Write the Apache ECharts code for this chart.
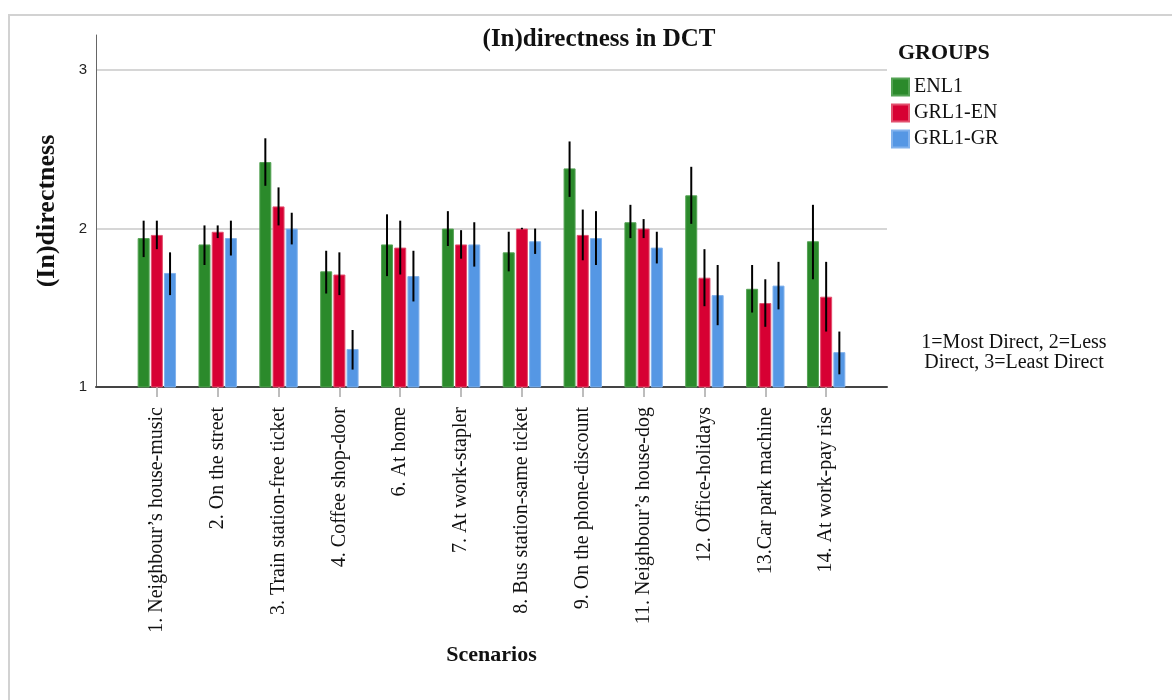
<!DOCTYPE html>
<html>
<head>
<meta charset="utf-8">
<script src="https://cdn.jsdelivr.net/npm/echarts@6/dist/echarts.min.js"></script>
<style>
  html, body { margin: 0; padding: 0; background: #ffffff; }
  #chart { width: 1172px; height: 700px; }
</style>
</head>
<body>
<div id="chart"></div>
<script>
// Scenario labels along the x axis
const scenarios = [
  '1. Neighbour\u2019s house-music',
  '2. On the street',
  '3. Train station-free ticket',
  '4. Coffee shop-door',
  '6. At home',
  '7. At work-stapler',
  '8. Bus station-same ticket',
  '9. On the phone-discount',
  '11. Neighbour\u2019s house-dog',
  '12. Office-holidays',
  '13.Car park machine',
  '14. At work-pay rise'
];

const groupNames = ['ENL1', 'GRL1-EN', 'GRL1-GR'];

// Mean (in)directness per scenario
const enl1Mean  = [1.94, 1.90, 2.42, 1.73, 1.90, 2.00, 1.85, 2.38, 2.04, 2.21, 1.62, 1.92];
const grEnMean  = [1.96, 1.98, 2.14, 1.71, 1.88, 1.90, 2.00, 1.96, 2.00, 1.69, 1.53, 1.57];
const grGrMean  = [1.72, 1.94, 2.00, 1.24, 1.70, 1.90, 1.92, 1.94, 1.88, 1.58, 1.64, 1.22];

// Error bar bounds (lower / upper)
const enl1Low   = [1.82, 1.77, 2.27, 1.59, 1.70, 1.89, 1.73, 2.20, 1.94, 2.03, 1.47, 1.68];
const enl1High  = [2.05, 2.02, 2.57, 1.86, 2.09, 2.11, 1.98, 2.55, 2.15, 2.39, 1.77, 2.15];
const grEnLow   = [1.87, 1.94, 2.02, 1.58, 1.71, 1.81, 1.995, 1.80, 1.94, 1.51, 1.38, 1.35];
const grEnHigh  = [2.05, 2.02, 2.26, 1.85, 2.05, 1.99, 2.005, 2.12, 2.06, 1.87, 1.68, 1.79];
const grGrLow   = [1.58, 1.83, 1.90, 1.11, 1.54, 1.76, 1.84, 1.77, 1.78, 1.39, 1.49, 1.08];
const grGrHigh  = [1.85, 2.05, 2.10, 1.36, 1.86, 2.04, 2.00, 2.11, 1.98, 1.77, 1.79, 1.35];

// Y axis ticks
const yTicks = [1, 2, 3];

const colors = ['#2b8a2b', '#d70033', '#5597e4'];
const edgeColors = ['#55a355', '#e2506e', '#82b2ec'];

const SERIF = '"Liberation Serif", "Times New Roman", serif';
const SANS = '"Liberation Sans", Arial, sans-serif';

const BAR_W = 12;
const BAR_GAP = 0.1;

// Empty slots on both ends leave a one-step margin inside the plot
const xCats = [''].concat(scenarios, ['']);
const pad = arr => [null].concat(arr, [null]);

const means = [enl1Mean, grEnMean, grGrMean];
const lows = [enl1Low, grEnLow, grGrLow];
const highs = [enl1High, grEnHigh, grGrHigh];

const barSeries = groupNames.map((name, g) => ({
  name: name,
  type: 'bar',
  data: pad(means[g]),
  barWidth: BAR_W,
  barGap: (BAR_GAP * 100) + '%',
  itemStyle: { color: colors[g], borderColor: edgeColors[g], borderWidth: 1 },
  z: 2
}));

const errorSeries = groupNames.map((name, g) => ({
  name: name + ' range',
  type: 'custom',
  data: scenarios.map((_, i) => [i + 1, lows[g][i], highs[g][i]]),
  encode: { x: 0, y: [1, 2] },
  z: 5,
  renderItem: function (params, api) {
    const offset = (g - 1) * BAR_W * (1 + BAR_GAP);
    const lo = api.coord([api.value(0), api.value(1)]);
    const hi = api.coord([api.value(0), api.value(2)]);
    const x = lo[0] + offset;
    return {
      type: 'line',
      shape: { x1: x, y1: lo[1], x2: x, y2: hi[1] },
      style: { stroke: '#000000', lineWidth: 2 }
    };
  }
}));

const chart = echarts.init(document.getElementById('chart'));
chart.setOption({
  animation: false,
  backgroundColor: '#ffffff',
  title: {
    text: '(In)directness in DCT',
    left: 594,
    top: 22,
    textAlign: 'center',
    textStyle: { fontFamily: SERIF, fontSize: 25, fontWeight: 'bold', color: '#111' }
  },
  legend: {
    data: groupNames,
    orient: 'vertical',
    left: 891,
    top: 77,
    padding: 0,
    itemWidth: 17,
    itemHeight: 17,
    itemGap: 6,
    icon: 'rect',
    textStyle: { fontFamily: SERIF, fontSize: 20, lineHeight: 17, color: '#111' }
  },
  grid: { left: 96, right: 285, top: 35, bottom: 313, containLabel: false },
  xAxis: {
    type: 'category',
    data: xCats,
    boundaryGap: false,
    name: 'Scenarios',
    nameLocation: 'middle',
    nameGap: 257,
    nameTextStyle: { fontFamily: SERIF, fontSize: 22, fontWeight: 'bold', color: '#111' },
    axisLine: { show: true, lineStyle: { color: '#444', width: 2 } },
    axisTick: {
      show: true,
      length: 10,
      interval: function (idx) { return idx > 0 && idx < xCats.length - 1; },
      lineStyle: { color: '#bdbdbd', width: 2 }
    },
    axisLabel: {
      rotate: 90,
      margin: 20,
      interval: 0,
      fontFamily: SERIF,
      fontSize: 20,
      color: '#111'
    },
    splitLine: { show: false }
  },
  yAxis: {
    type: 'value',
    min: yTicks[0],
    max: 3.222,
    interval: 1,
    name: '(In)directness',
    nameLocation: 'middle',
    nameGap: 36,
    nameTextStyle: { fontFamily: SERIF, fontSize: 26, fontWeight: 'bold', color: '#111' },
    axisLine: { show: true, lineStyle: { color: '#666', width: 1 } },
    axisTick: { show: false },
    axisLabel: {
      margin: 9,
      fontFamily: SANS,
      fontSize: 15,
      color: '#222',
      formatter: function (v) { return yTicks.indexOf(v) >= 0 ? String(v) : ''; }
    },
    splitLine: {
      show: true,
      showMinLine: false,
      showMaxLine: false,
      lineStyle: { color: '#c9c9c9', width: 1.5 }
    }
  },
  series: barSeries.concat(errorSeries),
  graphic: [
    {
      type: 'rect',
      shape: { x: 9, y: 15, width: 1300, height: 800 },
      style: { fill: 'none', stroke: '#d2d2d2', lineWidth: 2 },
      silent: true,
      z: -1
    },
    {
      type: 'text',
      left: 898,
      top: 42,
      style: { text: 'GROUPS', font: 'bold 22px ' + SERIF, fill: '#111' }
    },
    {
      type: 'text',
      x: 1014,
      y: 333,
      style: {
        text: '1=Most Direct, 2=Less\nDirect, 3=Least Direct',
        font: '20px ' + SERIF,
        fill: '#111',
        align: 'center',
        lineHeight: 20
      }
    }
  ]
});
</script>
</body>
</html>
